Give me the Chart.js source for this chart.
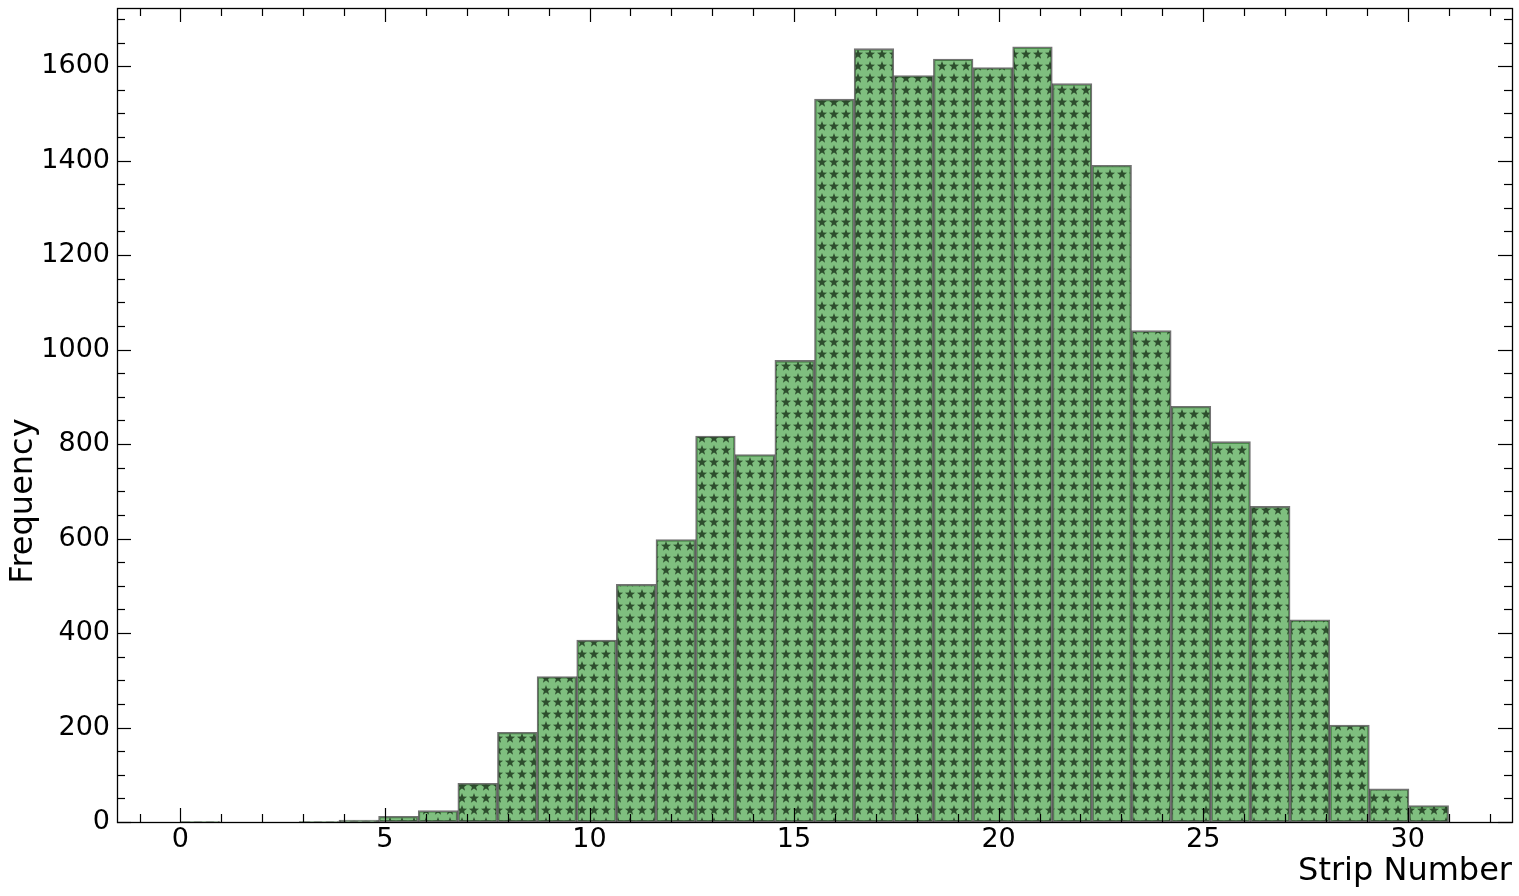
<!DOCTYPE html>
<html>
<head>
<meta charset="utf-8">
<script src="https://cdn.jsdelivr.net/npm/chart.js@4.4.1/dist/chart.umd.min.js"></script>
<style>
  html, body { margin: 0; padding: 0; background: #fff; }
  #wrap { width: 1519px; height: 896px; position: relative; }
</style>
</head>
<body>
<div id="wrap"><canvas id="histChart"></canvas></div>
<script>
// Histogram data: 32 bins spanning 0 .. 31
const histRange = [0, 31];
const binCounts = [
  1, 0, 0, 1, 4, 12, 24, 82,
  190, 308, 385, 503, 598, 817, 778, 977,
  1530, 1637, 1580, 1615, 1597, 1641, 1563, 1390,
  1040, 880, 805, 668, 428, 205, 70, 35
];
const xTicks = [0, 5, 10, 15, 20, 25, 30];
const yTicks = [0, 200, 400, 600, 800, 1000, 1200, 1400, 1600];
const xLabel = 'Strip Number';
const yLabel = 'Frequency';

const FONT = '"DejaVu Sans", Verdana, sans-serif';

// Bin centres from the histogram range
const binWidth = (histRange[1] - histRange[0]) / binCounts.length;
const points = binCounts.map((c, i) => ({ x: histRange[0] + (i + 0.5) * binWidth, y: c }));

// Axis limits (5% margins like the source plot)
const xSpan = histRange[1] - histRange[0];
const xMin = histRange[0] - 0.05 * xSpan;
const xMax = histRange[1] + 0.05 * xSpan;
const yMax = Math.max(...binCounts) * 1.05;

// Star hatch pattern
const makeStarPattern = () => {
  const size = 12;
  const c = document.createElement('canvas');
  c.width = size;
  c.height = size;
  const g = c.getContext('2d');
  g.fillStyle = 'rgba(0, 128, 0, 0.5)';
  g.fillRect(0, 0, size, size);
  g.fillStyle = 'rgba(25, 50, 25, 0.8)';
  const cx = size / 2, cy = size / 2 + 0.4, R = 5.3, r = 2.2;
  g.beginPath();
  for (let k = 0; k < 10; k++) {
    const rad = k % 2 === 0 ? R : r;
    const a = -Math.PI / 2 + k * Math.PI / 5;
    const px = cx + rad * Math.cos(a), py = cy + rad * Math.sin(a);
    if (k === 0) g.moveTo(px, py); else g.lineTo(px, py);
  }
  g.closePath();
  g.fill();
  return c;
};

// Inward ticks, frame and axis titles
const framePlugin = {
  id: 'frame',
  afterDraw(chart) {
    const { ctx, chartArea: a, scales } = chart;
    const xs = scales.x, ys = scales.y;
    ctx.save();
    ctx.strokeStyle = '#000';
    ctx.lineWidth = 1.2;
    const majorLen = 14, minorLen = 8;
    const tick = (x1, y1, x2, y2) => { ctx.beginPath(); ctx.moveTo(x1, y1); ctx.lineTo(x2, y2); ctx.stroke(); };
    // x ticks
    for (let v = Math.ceil(xMin); v <= xMax; v++) {
      const px = Math.round(xs.getPixelForValue(v)) + 0.5;
      const len = xTicks.includes(v) ? majorLen : minorLen;
      tick(px, a.bottom, px, a.bottom - len);
      tick(px, a.top, px, a.top + len);
    }
    // y ticks
    for (let v = 0; v <= yMax; v += 50) {
      const py = Math.round(ys.getPixelForValue(v)) + 0.5;
      const len = yTicks.includes(v) ? majorLen : minorLen;
      tick(a.left, py, a.left + len, py);
      tick(a.right, py, a.right - len, py);
    }
    ctx.lineWidth = 1.3;
    ctx.strokeRect(Math.round(a.left) + 0.5, Math.round(a.top) + 0.5,
      Math.round(a.right - a.left), Math.round(a.bottom - a.top));
    // titles
    ctx.fillStyle = '#000';
    ctx.font = '32px ' + FONT;
    ctx.textAlign = 'right';
    ctx.textBaseline = 'middle';
    ctx.fillText(xLabel, a.right, 872);
    ctx.translate(24, 501);
    ctx.rotate(-Math.PI / 2);
    ctx.textAlign = 'center';
    ctx.fillText(yLabel, 0, 0);
    ctx.restore();
  }
};

const ctx = document.getElementById('histChart');
new Chart(ctx, {
  type: 'bar',
  data: {
    datasets: [{
      label: yLabel,
      data: points,
      backgroundColor: ctx.getContext('2d').createPattern(makeStarPattern(), 'repeat'),
      borderColor: 'rgba(0, 0, 0, 0.55)',
      borderWidth: 1.6,
      borderSkipped: false,
      barPercentage: 1,
      categoryPercentage: 1
    }]
  },
  options: {
    responsive: true,
    maintainAspectRatio: false,
    animation: false,
    layout: { padding: { top: 8, right: 7, left: 0, bottom: 0 } },
    plugins: {
      legend: { display: false },
      tooltip: { enabled: false }
    },
    scales: {
      x: {
        type: 'linear',
        min: xMin,
        max: xMax,
        offset: false,
        grid: { display: false, drawTicks: false },
        border: { display: false },
        afterBuildTicks: (axis) => { axis.ticks = xTicks.map(v => ({ value: v })); },
        afterFit: (axis) => { axis.height = 74; axis.paddingLeft = 0; axis.paddingRight = 0; },
        ticks: {
          color: '#000',
          padding: 2,
          maxRotation: 0,
          font: { family: FONT, size: 27 },
          callback: (v) => String(v)
        }
      },
      y: {
        min: 0,
        max: yMax,
        grid: { display: false, drawTicks: false },
        border: { display: false },
        afterBuildTicks: (axis) => { axis.ticks = yTicks.map(v => ({ value: v })); },
        afterFit: (axis) => { axis.width = 117; axis.paddingTop = 0; axis.paddingBottom = 0; },
        ticks: {
          color: '#000',
          padding: 7,
          font: { family: FONT, size: 27 },
          callback: (v) => String(v)
        }
      }
    }
  },
  plugins: [framePlugin]
});
</script>
</body>
</html>
